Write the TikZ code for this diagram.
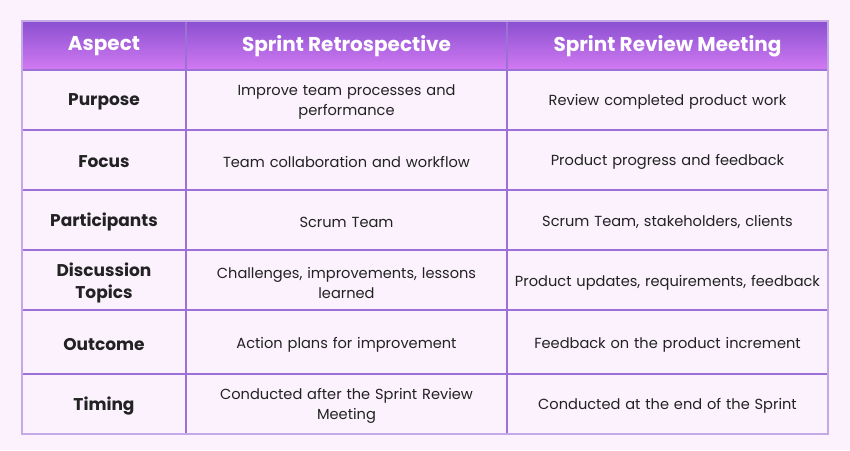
\documentclass[tikz,border=0pt]{standalone}
\usepackage{fontspec}
\setmainfont{Poppins}
\usetikzlibrary{positioning}
\definecolor{pagebg}{HTML}{FBF2FD}
\definecolor{headtop}{HTML}{8A50D0}
\definecolor{headbot}{HTML}{D27AF2}
\definecolor{gridline}{HTML}{9C70D6}
\definecolor{bodytext}{HTML}{222222}
\begin{document}
\begin{tikzpicture}[
                  x=1pt, y=-1pt,
                  head/.style={text=white, font=\fontsize{20}{22}\selectfont\bfseries, align=center},
                  aspect/.style={text=bodytext, font=\fontsize{17}{22}\selectfont\bfseries, align=center, text width=160pt},
                  cell/.style={text=bodytext, font=\fontsize{14.6}{20}\selectfont, align=center, text width=316pt},
                  grid/.style={draw=gridline, line width=1.1pt}
            ]

            % Background and header
            \fill [pagebg] (0,0) rectangle (850,450);
            \shade [top color=headtop, bottom color=headbot] (22,21) rectangle (828,70);

            % Header texts
            \node [head] (hAspect) at (104,46) {Aspect};
            \node [head] (hRetro) at (346.5,46) {Sprint Retrospective};
            \node [head] (hReview) at (667.5,46) {Sprint Review Meeting};

            % Rows
            \foreach \y/\a/\b/\c [count=\i] in {
                  102/Purpose/{Improve team processes and\\performance}/{Review completed product work},
                  162/Focus/{Team collaboration and workflow}/{Product progress and feedback},
                  222/Participants/{Scrum Team}/{Scrum Team, stakeholders, clients},
                  283/{Discussion\\Topics}/{Challenges, improvements, lessons\\learned}/{Product updates, requirements, feedback},
                  345/Outcome/{Action plans for improvement}/{Feedback on the product increment},
                  406/Timing/{Conducted after the Sprint Review\\Meeting}/{Conducted at the end of the Sprint}} {
                  \node [aspect] (aspect\i) at (104,\y) {\a};
                  \node [cell] (retro\i) at (346.5,\y) {\b};
                  \node [cell] (review\i) at (667.5,\y) {\c};
            }

            % Grid
            \foreach \y in {70,130,190,250,310,374}
                  \draw [grid] (22,\y) -- (828,\y);
            \draw [grid] (186,21) -- (186,434);
            \draw [grid] (507,21) -- (507,434);
            \draw [grid, draw=gridline!60] (22,21) rectangle (828,434);
      \end{tikzpicture}
\end{document}
